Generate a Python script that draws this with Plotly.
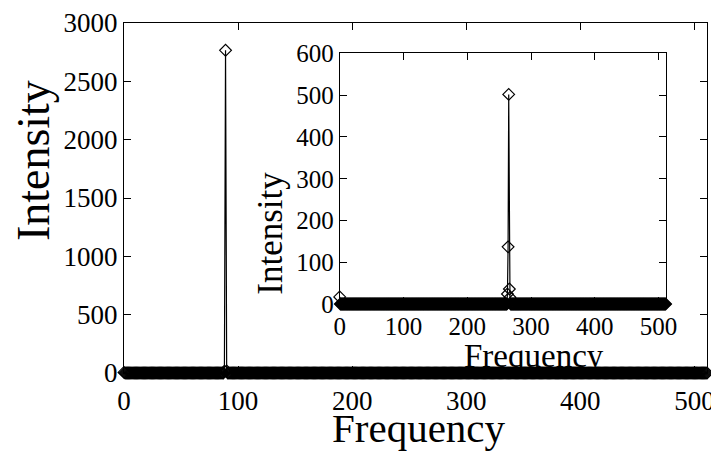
import plotly.graph_objects as go

# ---- data ----
n_bins = 512
frequency = list(range(n_bins))

# main spectrum: baseline ~0 except these bins
main_peak_bins = [0, 88, 89, 90]
main_peak_values = [5, 15, 2766, 18]

# inset spectrum: baseline ~0 except these bins
inset_peak_bins = [0, 263, 264, 265, 266, 267]
inset_peak_values = [17, 24, 137, 502, 36, 16]

main_intensity = [0.0] * n_bins
for b, v in zip(main_peak_bins, main_peak_values):
    main_intensity[b] = v
inset_intensity = [0.0] * n_bins
for b, v in zip(inset_peak_bins, inset_peak_values):
    inset_intensity[b] = v

main_xticks = [0, 100, 200, 300, 400, 500]
main_yticks = [0, 500, 1000, 1500, 2000, 2500, 3000]
inset_xticks = [0, 100, 200, 300, 400, 500]
inset_yticks = [0, 100, 200, 300, 400, 500, 600]

FONT = "Liberation Serif"

fig = go.Figure()
marker = dict(symbol="diamond-open", size=9, color="black", line=dict(color="black", width=1.2))
fig.add_trace(go.Scatter(x=frequency, y=main_intensity, mode="lines+markers",
                         line=dict(color="black", width=1.2), marker=marker,
                         cliponaxis=False, xaxis="x", yaxis="y", showlegend=False))
fig.add_trace(go.Scatter(x=frequency, y=inset_intensity, mode="lines+markers",
                         line=dict(color="black", width=1.2), marker=marker,
                         cliponaxis=False, xaxis="x2", yaxis="y2", showlegend=False))

axis_common = dict(showgrid=False, zeroline=False, showline=True, linecolor="black",
                   linewidth=1, mirror="ticks", ticks="inside", tickcolor="black",
                   ticklen=7, tickwidth=1, automargin=False)

# page body has an 8px margin, so the figure is shrunk by 8px and margins offset
fig.update_layout(
    width=711, height=451,
    margin=dict(l=116, r=12, t=15, b=86),
    paper_bgcolor="white", plot_bgcolor="white",
    font=dict(family=FONT, color="black"),
    xaxis=dict(range=[0, 511], tickvals=main_xticks, tickfont=dict(size=27, family=FONT),
               domain=[0, 1], ticklabelstandoff=4, **axis_common),
    yaxis=dict(range=[0, 3000], tickvals=main_yticks, tickfont=dict(size=27, family=FONT),
               domain=[0, 1], **axis_common),
    xaxis2=dict(range=[0, 511], tickvals=inset_xticks, tickfont=dict(size=25, family=FONT),
                domain=[0.370, 0.929], anchor="y2", **axis_common),
    yaxis2=dict(range=[0, 600], tickvals=inset_yticks, tickfont=dict(size=25, family=FONT),
                domain=[0.197, 0.913], anchor="x2", **axis_common),
    annotations=[
        dict(text="Frequency", xref="paper", yref="paper", x=0.506, y=-0.157,
             xanchor="center", yanchor="middle", showarrow=False,
             font=dict(size=41, family=FONT, color="black")),
        dict(text="Intensity", xref="paper", yref="paper", x=-0.154, y=0.606,
             xanchor="center", yanchor="middle", showarrow=False, textangle=-90,
             font=dict(size=46, family=FONT, color="black")),
        dict(text="Frequency", xref="paper", yref="paper", x=0.703, y=0.048,
             xanchor="center", yanchor="middle", showarrow=False,
             font=dict(size=33, family=FONT, color="black")),
        dict(text="Intensity", xref="paper", yref="paper", x=0.250, y=0.40,
             xanchor="center", yanchor="middle", showarrow=False, textangle=-90,
             font=dict(size=35, family=FONT, color="black")),
    ],
)

fig.write_html("out.html")
